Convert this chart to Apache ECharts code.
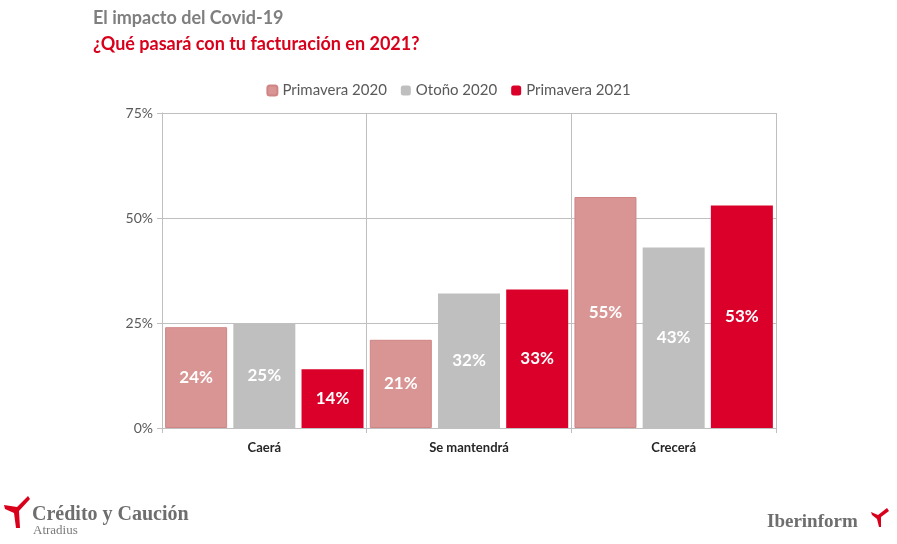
<!DOCTYPE html>
<html>
<head>
<meta charset="utf-8">
<script src="https://cdn.jsdelivr.net/npm/echarts@6/dist/echarts.min.js"></script>
<style>html,body{margin:0;padding:0;background:#fff}#c{width:897px;height:544px}</style>
</head>
<body>
<div id="c"></div>
<script>
var categories = ['Caerá', 'Se mantendrá', 'Crecerá'];
var seriesNames = ['Primavera 2020', 'Otoño 2020', 'Primavera 2021'];
var primavera2020 = [24, 21, 55];
var otono2020 = [25, 32, 43];
var primavera2021 = [14, 33, 53];
var yTicks = [0, 25, 50, 75];

var FONT = 'Lato';
var chart = echarts.init(document.getElementById('c'), null, {renderer: 'canvas'});
var labelCfg = {show: true, position: 'inside', color: '#fff', fontWeight: 'bold', fontSize: 17, fontFamily: FONT, formatter: function(p){return p.value + '%';}};
chart.setOption({
  animation: false,
  textStyle: {fontFamily: FONT},
  title: [
    {text: 'El impacto del Covid-19', left: 88, top: 4, textStyle: {color: '#7f7f7f', fontSize: 18, fontWeight: 'bold', fontFamily: FONT}},
    {text: '¿Qué pasará con tu facturación en 2021?', left: 88, top: 30, textStyle: {color: '#d9001b', fontSize: 18, fontWeight: 'bold', fontFamily: FONT}}
  ],
  legend: {
    top: 78, left: 'center', itemWidth: 10, itemHeight: 10, itemGap: 14,
    textStyle: {color: '#595959', fontSize: 15, fontFamily: FONT},
    data: seriesNames
  },
  grid: {left: 162, right: 121, top: 113, bottom: 116},
  xAxis: {
    type: 'category', data: categories,
    axisLine: {lineStyle: {color: '#bfbfbf', width: 1}},
    axisTick: {show: true, length: 5, lineStyle: {color: '#bfbfbf'}},
    splitLine: {show: true, lineStyle: {color: '#bfbfbf', width: 1}},
    axisLabel: {color: '#262626', fontSize: 13, fontWeight: 'bold', margin: 13, fontFamily: FONT}
  },
  yAxis: {
    type: 'value', min: yTicks[0], max: yTicks[yTicks.length - 1], interval: 25,
    axisLine: {show: true, lineStyle: {color: '#bfbfbf'}},
    axisTick: {show: true, length: 5, lineStyle: {color: '#bfbfbf'}},
    splitLine: {lineStyle: {color: '#bfbfbf', width: 1}},
    axisLabel: {color: '#595959', fontSize: 14, margin: 9, fontFamily: FONT, formatter: '{value}%'}
  },
  series: [
    {name: seriesNames[0], type: 'bar', data: primavera2020, barWidth: 62, barGap: '10%',
     itemStyle: {color: '#d99594', borderColor: '#cf8584', borderWidth: 1}, label: labelCfg},
    {name: seriesNames[1], type: 'bar', data: otono2020, barWidth: 62, barGap: '10%',
     itemStyle: {color: '#bfbfbf'}, label: labelCfg},
    {name: seriesNames[2], type: 'bar', data: primavera2021, barWidth: 62, barGap: '10%',
     itemStyle: {color: '#da0029'}, label: labelCfg}
  ],
  graphic: [
    {type: 'polygon', shape: {points: [[28,496],[17,507],[4,505],[5,509],[14,513],[16,528],[20,528],[19,511],[30,499]]}, style: {fill: '#d9001b'}},
    {type: 'text', left: 32, top: 505, style: {text: 'Crédito y Caución', fill: '#6e6e6e', font: 'bold 20px "Liberation Serif", serif'}},
    {type: 'text', left: 33, top: 524, style: {text: 'Atradius', fill: '#7a7a7a', font: '13px "Liberation Serif", serif'}},
    {type: 'text', left: 767, top: 513, style: {text: 'Iberinform', fill: '#6e6e6e', font: 'bold 19px "Liberation Serif", serif'}},
    {type: 'polygon', shape: {points: [[887,508],[878,515],[871,512],[872,515],[877,519],[879,527],[881,527],[881,517],[889,511]]}, style: {fill: '#d9001b'}}
  ]
});
</script>
</body>
</html>
